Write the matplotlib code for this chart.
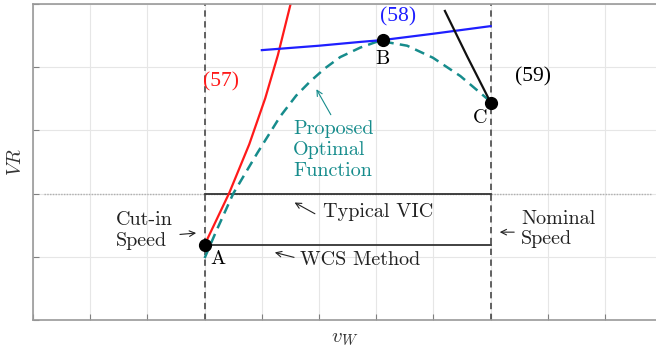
import matplotlib
matplotlib.use("Agg")
import matplotlib.pyplot as plt

plt.rcParams['mathtext.fontset'] = 'cm'

# ---- data ----
x_cutin = 3.0
x_nominal = 8.0
y_vic = 2.0
y_wcs = 1.19

red_x = [3.0, 3.43, 3.78, 4.06, 4.28, 4.50]
red_y = [1.19, 2.01, 2.78, 3.51, 4.19, 4.99]

blue_x = [4.0, 5.0, 5.72, 6.12, 7.0, 8.0]
blue_y = [4.27, 4.34, 4.40, 4.43, 4.53, 4.65]

black_x = [7.2, 7.59, 8.0]
black_y = [4.89, 4.17, 3.44]

teal_x = [3.0, 3.2, 3.5, 3.92, 4.32, 4.6, 4.84, 5.1, 5.37, 5.72, 6.0, 6.1, 6.54, 6.99, 7.47, 7.94, 8.0]
teal_y = [0.98, 1.4, 2.0, 2.64, 3.22, 3.55, 3.77, 3.98, 4.16, 4.31, 4.40, 4.41, 4.34, 4.15, 3.86, 3.50, 3.44]

pts_x = [3.0, 6.12, 8.0]
pts_y = [1.19, 4.43, 3.44]

fig = plt.figure(figsize=(6.56, 3.48), dpi=100)
ax = fig.add_axes([33/656, 1-320/348, 1-33/656, (320-4)/348])
ax.set_xlim(0, 10.89)
ax.set_ylim(0, 5)
ax.set_xticks(range(0, 11))
ax.set_yticks(range(0, 6))
ax.set_xticklabels([])
ax.set_yticklabels([])
ax.grid(True, color='#e6e6e6', lw=0.8)
ax.tick_params(direction='in', length=4, color='#808080', width=0.8)
for s in ['left', 'bottom', 'top']:
    ax.spines[s].set_color('#9a9a9a')
    ax.spines[s].set_linewidth(1.2)
ax.spines['right'].set_visible(False)
ax.set_axisbelow(True)

# reference lines
ax.plot([0.2, 10.8], [y_vic, y_vic], color='#b0b0b0', lw=1.0, ls=(0, (1, 1)))
ax.axvline(x_cutin, color='#555555', lw=1.3, ls=(0, (3.5, 2.5)))
ax.axvline(x_nominal, color='#555555', lw=1.3, ls=(0, (3.5, 2.5)))
ax.plot([x_cutin, x_nominal], [y_vic, y_vic], color='#333333', lw=1.3)
ax.plot([x_cutin, x_nominal], [y_wcs, y_wcs], color='#333333', lw=1.3)

# curves
ax.plot(teal_x, teal_y, color='#168c8c', lw=1.8, ls=(0, (4, 2.5)))
ax.plot(red_x, red_y, color='#ff1a1a', lw=1.6)
ax.plot(blue_x, blue_y, color='#1f1fff', lw=1.6)
ax.plot(black_x, black_y, color='#111111', lw=1.6)
ax.plot(pts_x, pts_y, 'o', color='black', ms=8.5, zorder=5)

serif = ['cmr10', 'DejaVu Serif']
fs = 14.5
ax.text(3.24, 0.97, 'A', fontsize=fs, family=serif, ha='center', va='center')
ax.text(6.1, 4.13, 'B', fontsize=fs, family=serif, ha='center', va='center')
ax.text(7.81, 3.19, 'C', fontsize=fs, family=serif, ha='center', va='center')

tnr = ['Liberation Serif']
ax.text(3.29, 3.77, '(57)', color='#ff1a1a', fontsize=15.5, family=tnr, ha='center', va='center')
ax.text(6.38, 4.79, '(58)', color='#1f1fff', fontsize=15.5, family=tnr, ha='center', va='center')
ax.text(8.74, 3.85, '(59)', color='black', fontsize=15.5, family=tnr, ha='center', va='center')

ax.text(4.55, 2.69, 'Proposed\nOptimal\nFunction', color='#168c8c', fontsize=fs,
        family=serif, ha='left', va='center', linespacing=1.2)
ax.annotate('', xy=(4.93, 3.69), xytext=(5.23, 3.21),
            arrowprops=dict(arrowstyle='->', color='#168c8c', lw=0.8))

ax.text(5.07, 1.71, 'Typical VIC', fontsize=fs, family=serif, color='#222222', ha='left', va='center')
ax.annotate('', xy=(4.53, 1.88), xytext=(4.97, 1.66),
            arrowprops=dict(arrowstyle='->', color='#222222', lw=0.8))

ax.text(4.67, 0.95, 'WCS Method', fontsize=fs, family=serif, color='#222222', ha='left', va='center')
ax.annotate('', xy=(4.18, 1.08), xytext=(4.61, 0.98),
            arrowprops=dict(arrowstyle='->', color='#222222', lw=0.8))

ax.text(1.45, 1.42, 'Cut-in\nSpeed', fontsize=fs, family=serif, color='#222222', ha='left', va='center',
        linespacing=1.2)
ax.annotate('', xy=(2.9, 1.38), xytext=(2.52, 1.35),
            arrowprops=dict(arrowstyle='->', color='#222222', lw=0.8))

ax.text(8.53, 1.44, 'Nominal\nSpeed', fontsize=fs, family=serif, color='#222222', ha='left', va='center',
        linespacing=1.2)
ax.annotate('', xy=(8.11, 1.39), xytext=(8.46, 1.39),
            arrowprops=dict(arrowstyle='->', color='#222222', lw=0.8))

ax.set_ylabel('$VR$', fontsize=14, color='#333333', labelpad=2)
ax.set_xlabel('$v_W$', fontsize=15, color='#333333', labelpad=2)

fig.savefig('out.png', dpi=100)
